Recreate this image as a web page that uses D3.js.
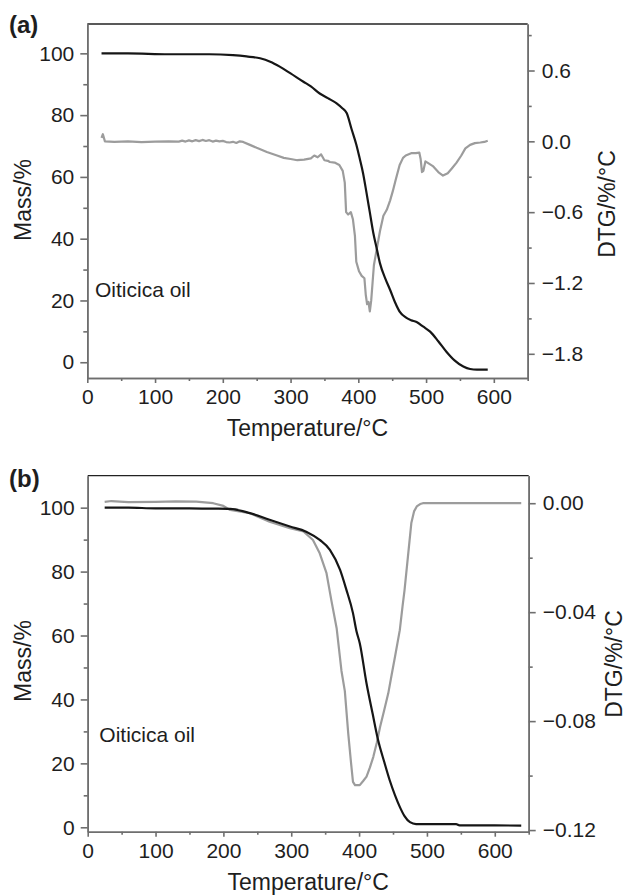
<!DOCTYPE html>
<html>
<head>
<meta charset="utf-8">
<script src="https://cdn.jsdelivr.net/npm/d3@7"></script>
<style>
  html, body { margin: 0; padding: 0; background: #fff; }
  svg { display: block; }
  text { font-family: "Liberation Sans", Arial, Helvetica, sans-serif; fill: #1e1e1e; }
</style>
</head>
<body>
<svg id="chart" width="628" height="895"></svg>
<script>
// ---------------- DATA ----------------
const panelLabels = ["(a)", "(b)"];
const sampleName = "Oiticica oil";
const xTitle = "Temperature/°C";
const yLeftTitle = "Mass/%";
const yRightTitle = "DTG/%/°C";

const tempTicks = [0, 100, 200, 300, 400, 500, 600];
const tempMinorTicks = [50, 150, 250, 350, 450, 550, 650];
const massTicks = [0, 20, 40, 60, 80, 100];
const massMinorTicks = [10, 30, 50, 70, 90];
const dtgTicksA = [-1.8, -1.2, -0.6, 0.0, 0.6];
const dtgMinorTicksA = [-1.5, -0.9, -0.3, 0.3, 0.9];
const dtgTicksB = [-0.12, -0.08, -0.04, 0.00];
const dtgMinorTicksB = [-0.10, -0.06, -0.02];

// Panel (a): mass (TG) curve  [temperature, mass %]
const massA = [[21,100],[60,100],[120,99.7],[180,99.7],[215,99.4],[235,99.0],[255,98.4],[270,97.3],[284,95.7],
  [300,93.5],[319,90.8],[330,89.3],[343,87.0],[355,85.5],[368,83.8],[376,82.3],[383,80.6],[390,75.5],[397,70.5],
  [402,66],[407,61.2],[412,55],[417,48.5],[422,42],[427,37],[432,32.0],[440,27],[447,23.4],[454,19.5],[461,16.4],
  [470,14.5],[478,13.6],[486,13.0],[496,11.5],[506,9.9],[518,6.8],[530,3.4],[542,0.6],[555,-1.4],[565,-2.2],
  [575,-2.4],[591,-2.4]];

// Panel (a): DTG curve  [temperature, %/°C]
const dtgA = [[21,0.03],[23,0.06],[26,0.0],[40,-0.004],[60,0.0],[80,-0.006],[100,-0.003],[120,0.0],[135,-0.002],
  [140,0.006],[145,-0.002],[150,0.008],[155,0.0],[160,0.01],[165,0.002],[170,0.012],[175,0.003],[180,0.01],
  [185,-0.002],[190,0.006],[195,0.0],[200,0.004],[205,-0.006],[210,-0.01],[215,-0.004],[220,-0.014],[225,0.0],
  [230,-0.005],[240,-0.03],[250,-0.055],[265,-0.09],[280,-0.12],[290,-0.14],[300,-0.15],[310,-0.16],[320,-0.155],
  [330,-0.145],[335,-0.12],[340,-0.135],[345,-0.11],[350,-0.16],[355,-0.165],[358,-0.175],[365,-0.18],[372,-0.2],
  [377,-0.25],[380,-0.35],[382,-0.6],[385,-0.62],[389,-0.6],[392,-0.66],[395,-0.8],[397,-1.02],[401,-1.1],
  [405,-1.14],[409,-1.16],[411,-1.3],[413,-1.38],[415,-1.36],[417,-1.44],[419,-1.35],[421,-1.2],[423,-1.05],
  [427,-0.92],[432,-0.76],[437,-0.63],[442,-0.58],[447,-0.5],[451,-0.42],[455,-0.33],[461,-0.2],[466,-0.14],
  [470,-0.12],[478,-0.1],[485,-0.1],[490,-0.095],[492,-0.15],[494,-0.26],[496,-0.25],[499,-0.17],[502,-0.18],
  [510,-0.21],[518,-0.26],[525,-0.29],[532,-0.27],[538,-0.23],[545,-0.18],[552,-0.12],[558,-0.06],[565,-0.03],
  [572,-0.015],[580,-0.01],[586,-0.005],[591,0.005]];

// Panel (b): mass (TG) curve
const massB = [[25,100],[60,100],[100,99.8],[150,99.8],[185,99.7],[210,99.6],[239,98.3],[268,96.2],[298,94.1],
  [322,92.5],[342,89.9],[357,86.8],[372,80.5],[381,74.5],[391,67],[396,61.5],[401,57.6],[411,45],[420,35.5],
  [428,27.3],[437,20.5],[445,14.8],[453,10],[460,6.4],[467,3.5],[475,1.6],[484,1.0],[520,1.0],[543,1.0],
  [548,0.6],[600,0.6],[639,0.5]];

// Panel (b): DTG curve
const dtgB = [[25,0.0005],[35,0.0008],[60,0.0004],[100,0.0005],[130,0.0007],[160,0.0006],[185,0.0],[200,-0.001],
  [210,-0.0025],[239,-0.0037],[268,-0.0068],[298,-0.0092],[318,-0.0104],[332,-0.0135],[342,-0.0184],[352,-0.0257],
  [359,-0.0355],[367,-0.046],[374,-0.0615],[379,-0.069],[384,-0.0845],[388,-0.095],[391,-0.1023],[394,-0.1035],
  [401,-0.1035],[406,-0.102],[411,-0.1004],[416,-0.097],[421,-0.0931],[426,-0.088],[431,-0.0821],[437,-0.076],
  [443,-0.0698],[448,-0.063],[453,-0.0563],[460,-0.0466],[464,-0.038],[467,-0.0319],[472,-0.0196],[477,-0.0073],
  [481,-0.003],[485,-0.0012],[490,-0.0003],[494,0],[560,0],[639,0]];

// ---------------- LAYOUT ----------------
const panels = [
  { label: panelLabels[0], mass: massA, dtg: dtgA,
    left: 87.3, right: 527.7, top: 24, bottom: 378,
    massDomain: [-5.1, 109.5], dtgDomain: [-2.005, 0.994],
    dtgTicks: dtgTicksA, dtgMinor: dtgMinorTicksA, dtgFmt: d3.format(".1f"),
    labelPos: [9, 33], namePos: [95, 297],
    yLeftTitle: [31, 200], yRightTitle: [615, 204], xTitleY: 436 },
  { label: panelLabels[1], mass: massB, dtg: dtgB,
    left: 87.7, right: 528.7, top: 475.7, bottom: 831.7,
    massDomain: [-1.38, 110], dtgDomain: [-0.1206, 0.0101],
    dtgTicks: dtgTicksB, dtgMinor: dtgMinorTicksB, dtgFmt: d3.format(".2f"),
    labelPos: [9, 487], namePos: [99.3, 741.7],
    yLeftTitle: [31, 661], yRightTitle: [622, 664], xTitleY: 890 }
];

const svg = d3.select("#chart");
svg.append("rect").attr("width", 628).attr("height", 895).attr("fill", "#fff");

const minusFmt = f => (d => f(d).replace("-", "\u2212"));
const AXIS = "#6e6e6e";

function styleAxis(g, fs) {
  g.select(".domain").attr("stroke", AXIS).attr("stroke-width", 1.6);
  g.selectAll(".tick line").attr("stroke", AXIS).attr("stroke-width", 1.6);
  g.selectAll(".tick text").attr("font-size", fs).attr("fill", "#1e1e1e")
    .attr("font-family", "'Liberation Sans', Arial, sans-serif");
}

panels.forEach(p => {
  const x = d3.scaleLinear().domain([0, 650]).range([p.left, p.right]);
  const yL = d3.scaleLinear().domain(p.massDomain).range([p.bottom, p.top]);
  const yR = d3.scaleLinear().domain(p.dtgDomain).range([p.bottom, p.top]);
  const g = svg.append("g");

  // curves
  g.append("path").datum(p.dtg)
    .attr("d", d3.line().x(d => x(d[0])).y(d => yR(d[1])))
    .attr("fill", "none").attr("stroke", "#9c9c9c").attr("stroke-width", 2.2)
    .attr("stroke-linejoin", "round");
  g.append("path").datum(p.mass)
    .attr("d", d3.line().curve(d3.curveMonotoneX).x(d => x(d[0])).y(d => yL(d[1])))
    .attr("fill", "none").attr("stroke", "#161616").attr("stroke-width", 2.2)
    .attr("stroke-linejoin", "round");

  // top frame
  g.append("line").attr("x1", p.left).attr("x2", p.right).attr("y1", p.top).attr("y2", p.top)
    .attr("stroke", "#222").attr("stroke-width", 1.3);

  // bottom axis
  g.append("g").attr("transform", `translate(0,${p.bottom})`)
    .call(d3.axisBottom(x).tickValues(tempMinorTicks).tickSize(3).tickSizeOuter(0).tickFormat(""))
    .call(a => styleAxis(a, 21));
  g.append("g").attr("transform", `translate(0,${p.bottom})`)
    .call(d3.axisBottom(x).tickValues(tempTicks).tickSize(5).tickSizeOuter(0).tickPadding(6).tickFormat(d3.format("d")))
    .call(a => styleAxis(a, 21));

  // left axis
  g.append("g").attr("transform", `translate(${p.left},0)`)
    .call(d3.axisLeft(yL).tickValues(massMinorTicks).tickSize(4).tickSizeOuter(0).tickFormat(""))
    .call(a => styleAxis(a, 21));
  g.append("g").attr("transform", `translate(${p.left},0)`)
    .call(d3.axisLeft(yL).tickValues(massTicks).tickSize(7).tickSizeOuter(0).tickPadding(6).tickFormat(d3.format("d")))
    .call(a => styleAxis(a, 21));

  // right axis
  g.append("g").attr("transform", `translate(${p.right},0)`)
    .call(d3.axisRight(yR).tickValues(p.dtgMinor).tickSize(4).tickSizeOuter(0).tickFormat(""))
    .call(a => styleAxis(a, 21));
  g.append("g").attr("transform", `translate(${p.right},0)`)
    .call(d3.axisRight(yR).tickValues(p.dtgTicks).tickSize(7).tickSizeOuter(0).tickPadding(7).tickFormat(minusFmt(p.dtgFmt)))
    .call(a => styleAxis(a, 21));

  // texts
  g.append("text").attr("x", p.labelPos[0]).attr("y", p.labelPos[1])
    .attr("font-size", 24).attr("font-weight", "bold").text(p.label);
  g.append("text").attr("x", p.namePos[0]).attr("y", p.namePos[1])
    .attr("font-size", 21).text(sampleName);
  g.append("text").attr("x", (p.left + p.right) / 2).attr("y", p.xTitleY)
    .attr("text-anchor", "middle").attr("font-size", 23).text(xTitle);
  g.append("text").attr("transform", `translate(${p.yLeftTitle[0]},${p.yLeftTitle[1]}) rotate(-90)`)
    .attr("text-anchor", "middle").attr("font-size", 23).text(yLeftTitle);
  g.append("text").attr("transform", `translate(${p.yRightTitle[0]},${p.yRightTitle[1]}) rotate(-90)`)
    .attr("text-anchor", "middle").attr("font-size", 23).text(yRightTitle);
});
</script>
</body>
</html>
